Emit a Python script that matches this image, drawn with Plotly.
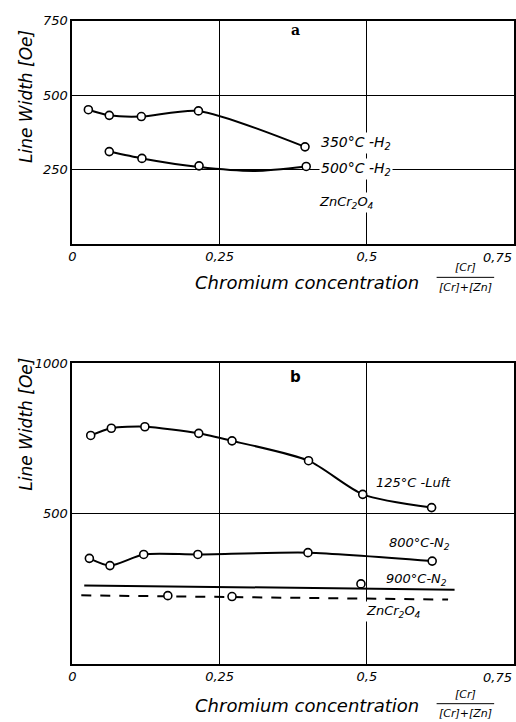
import plotly.graph_objects as go

# ---------------- data ----------------
# Panel a
a350_x = [0.027, 0.0625, 0.117, 0.214, 0.395]
a350_y = [451, 432, 428, 447, 326]
a500_x = [0.0625, 0.118, 0.215, 0.397]
a500_y = [310, 287, 262, 260]
a500_curve_x = [0.0625, 0.118, 0.215, 0.31, 0.397]
a500_curve_y = [310, 287, 258, 245, 260]

# Panel b
b125_x = [0.031, 0.066, 0.123, 0.2145, 0.271, 0.401, 0.493, 0.610]
b125_y = [759, 783, 788, 766, 741, 675, 563, 519]
b800_x = [0.0287, 0.0637, 0.121, 0.213, 0.400, 0.611]
b800_y = [350, 326, 363, 363, 369, 341]
b900_x = [0.49]
b900_y = [265]
b900_line_x = [0.020, 0.649]
b900_line_y = [260, 246]
bzn_x = [0.162, 0.271]
bzn_y = [226, 223]
bzn_line_x = [0.015, 0.638]
bzn_line_y = [227, 213]

xtick_vals = [0, 0.25, 0.5]
xtick_text = ["0", "0,25", "0,5"]
x_last_val = 0.75
x_last_text = "0,75"
a_ytick_vals = [250, 500, 750]
b_ytick_vals = [500, 1000]

FONT = "DejaVu Sans"
ink = "black"

fig = go.Figure()

def curve(x, y, xa, ya, dash="solid", shape="spline"):
    fig.add_trace(go.Scatter(x=x, y=y, mode="lines", xaxis=xa, yaxis=ya,
                             line=dict(color=ink, width=2, dash=dash, shape=shape, smoothing=0.7),
                             showlegend=False, hoverinfo="skip"))

def marks(x, y, xa, ya):
    fig.add_trace(go.Scatter(x=x, y=y, mode="markers", xaxis=xa, yaxis=ya,
                             marker=dict(symbol="circle", size=8, color="white",
                                         line=dict(color=ink, width=1.6)),
                             showlegend=False))

# panel a
curve(a350_x, a350_y, "x", "y")
marks(a350_x, a350_y, "x", "y")
curve(a500_curve_x, a500_curve_y, "x", "y")
marks(a500_x, a500_y, "x", "y")

# panel b
curve(b125_x, b125_y, "x2", "y2")
marks(b125_x, b125_y, "x2", "y2")
curve(b800_x, b800_y, "x2", "y2")
marks(b800_x, b800_y, "x2", "y2")
curve(b900_line_x, b900_line_y, "x2", "y2", shape="linear")
marks(b900_x, b900_y, "x2", "y2")
curve(bzn_line_x, bzn_line_y, "x2", "y2", dash="10px,9px", shape="linear")
marks(bzn_x, bzn_y, "x2", "y2")

W, H = 516, 722
x_dom = [69 / W, 514 / W]
a_dom = [1 - 239 / H, 1 - 14 / H]
b_dom = [1 - 663 / H, 1 - 359.5 / H]

tickfont = dict(family=FONT, size=13, color=ink, style="italic")

def xaxis(domain_anchor):
    return dict(domain=x_dom, range=[0, 0.75], anchor=domain_anchor,
                tickvals=xtick_vals + [x_last_val], ticktext=xtick_text + [""],
                tickfont=tickfont,
                showgrid=True, gridcolor=ink, gridwidth=1.3,
                showline=True, linecolor=ink, linewidth=2, mirror=True,
                ticks="", zeroline=False, fixedrange=True)

def yaxis(dom, rng, vals, anchor):
    return dict(domain=dom, range=rng, anchor=anchor,
                tickvals=vals, tickfont=tickfont,
                showgrid=True, gridcolor=ink, gridwidth=1.3,
                showline=True, linecolor=ink, linewidth=2, mirror=True,
                ticks="", zeroline=False, fixedrange=True)

annotations = []

def ann(text, x, y, xref, yref, size=14, xanchor="left", yanchor="middle", angle=0,
        family=FONT, style="italic", weight="normal", bg=None, yshift=0):
    d = dict(text=text, x=x, y=y, xref=xref, yref=yref, showarrow=False,
             xanchor=xanchor, yanchor=yanchor, textangle=angle, yshift=yshift,
             font=dict(family=family, size=size, color=ink, style=style, weight=weight))
    if bg:
        d["bgcolor"] = bg
    annotations.append(d)

# panel a labels
ann("350°C -H<sub>2</sub>", 0.419, 340, "x", "y", size=14, bg="white")
ann("500°C -H<sub>2</sub>", 0.419, 253, "x", "y", size=14, bg="white")
ann("ZnCr<sub>2</sub>O<sub>4</sub>", 0.415, 140, "x", "y", size=13, bg="white")
ann("a", 0.378, 720, "x", "y", size=14, xanchor="center", family="DejaVu Serif",
    style="normal", weight="bold")

# panel b labels
ann("b", 0.378, 954, "x2", "y2", size=15, xanchor="center", style="normal", weight="bold")
ann("125°C -Luft", 0.512, 602, "x2", "y2", size=13)
ann("800°C-N<sub>2</sub>", 0.534, 401, "x2", "y2", size=13)
ann("900°C-N<sub>2</sub>", 0.529, 280, "x2", "y2", size=13)
ann("ZnCr<sub>2</sub>O<sub>4</sub>", 0.495, 174, "x2", "y2", size=13, bg="white")

# last x tick label, kept inside the page
for xr, yr in [("x", "y"), ("x2", "y2")]:
    ann(x_last_text, x_last_val, 0, xr, yr, size=13, xanchor="right", yanchor="top",
        yshift=-4)

# axis titles (paper coords)
ann("Line Width [Oe]", 22 / W, 1 - 90 / H, "paper", "paper", size=17, xanchor="center",
    yanchor="middle", angle=-90)
ann("Line Width [Oe]", 22 / W, 1 - 421 / H, "paper", "paper", size=17, xanchor="center",
    yanchor="middle", angle=-90)

shapes = []
for cy, ny, dy in [(278, 263, 283), (705, 694, 713)]:
    ann("Chromium concentration", 305 / W, 1 - cy / H, "paper", "paper", size=18,
        xanchor="center", yanchor="middle")
    ann("[Cr]", 465 / W, 1 - ny / H, "paper", "paper", size=11, xanchor="center")
    ann("[Cr]+[Zn]", 465 / W, 1 - dy / H, "paper", "paper", size=11, xanchor="center")
    by = 1 - (ny + dy) / 2 / H
    shapes.append(dict(type="line", xref="paper", yref="paper", x0=436 / W, x1=494 / W,
                       y0=by, y1=by, line=dict(color=ink, width=1)))

fig.update_layout(
    width=W, height=H, margin=dict(l=0, r=0, t=0, b=0),
    paper_bgcolor="white", plot_bgcolor="white",
    xaxis=xaxis("y"), yaxis=yaxis(a_dom, [0, 750], a_ytick_vals, "x"),
    xaxis2=xaxis("y2"), yaxis2=yaxis(b_dom, [0, 1000], b_ytick_vals, "x2"),
    annotations=annotations, shapes=shapes,
)

fig.write_html("out.html")
